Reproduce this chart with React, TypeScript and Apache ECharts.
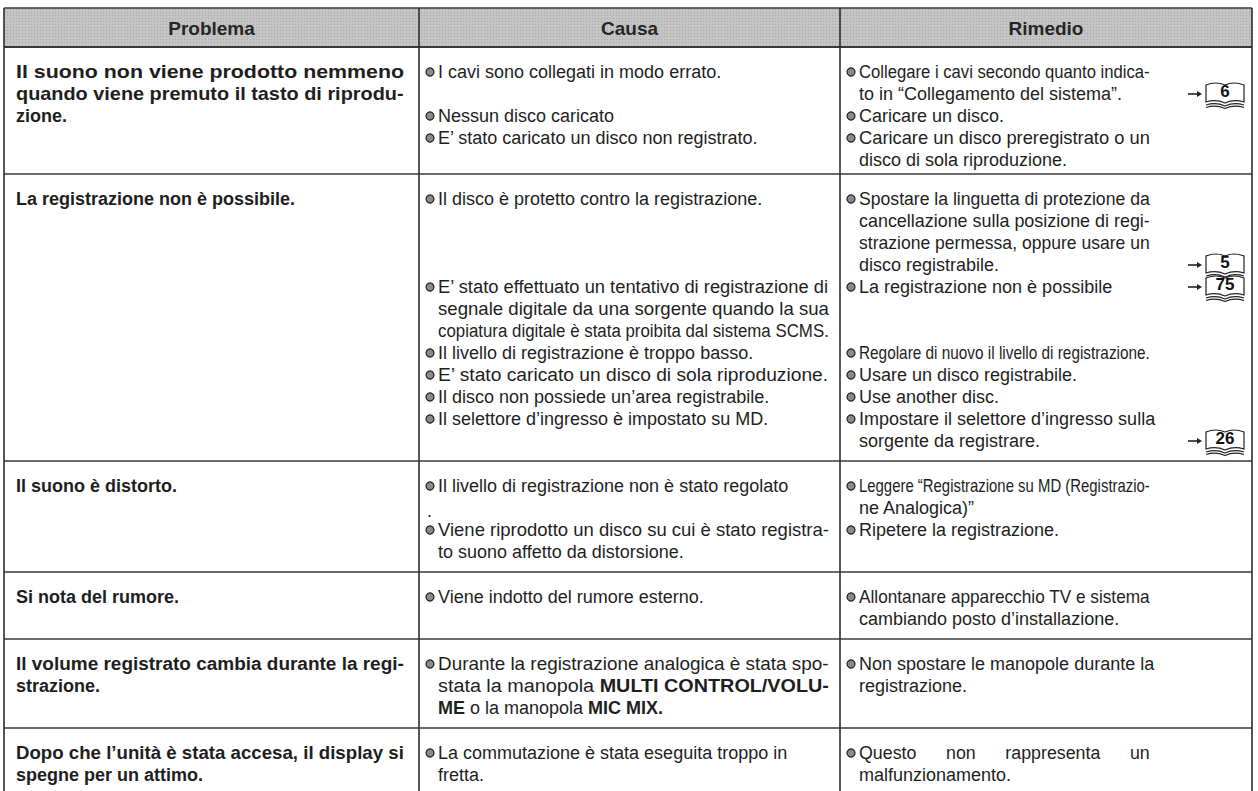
import React, { useEffect, useRef } from "react";
import * as echarts from "echarts";

// ---------- data ----------
const headers = ["Problema", "Causa", "Rimedio"];
const colEdges = [4, 419, 840, 1252];
const rowLineCounts = [5, 12, 4, 2, 3, 2];

type Item = { at: number; lines: string[] };

const problems: string[][] = [
  ["Il suono non viene prodotto nemmeno", "quando viene premuto il tasto di riprodu-", "zione."],
  ["La registrazione non è possibile."],
  ["Il suono è distorto."],
  ["Si nota del rumore."],
  ["Il volume registrato cambia durante la regi-", "strazione."],
  ["Dopo che l’unità è stata accesa, il display si", "spegne per un attimo."],
];

const causes: Item[][] = [
  [
    { at: 0, lines: ["I cavi sono collegati in modo errato."] },
    { at: 2, lines: ["Nessun disco caricato"] },
    { at: 3, lines: ["E’ stato caricato un disco non registrato."] },
  ],
  [
    { at: 0, lines: ["Il disco è protetto contro la registrazione."] },
    { at: 4, lines: ["E’ stato effettuato un tentativo di registrazione di", "segnale digitale da una sorgente quando la sua", "copiatura digitale è stata proibita dal sistema SCMS."] },
    { at: 7, lines: ["Il livello di registrazione è troppo basso."] },
    { at: 8, lines: ["E’ stato caricato un disco di sola riproduzione."] },
    { at: 9, lines: ["Il disco non possiede un’area registrabile."] },
    { at: 10, lines: ["Il selettore d’ingresso è impostato su MD."] },
  ],
  [
    { at: 0, lines: ["Il livello di registrazione non è stato regolato", "."] },
    { at: 2, lines: ["Viene riprodotto un disco su cui è stato registra-", "to suono affetto da distorsione."] },
  ],
  [{ at: 0, lines: ["Viene indotto del rumore esterno."] }],
  [{ at: 0, lines: ["Durante la registrazione analogica è stata spo-", "stata la manopola {b|MULTI CONTROL/VOLU-}", "{b|ME} o la manopola {b|MIC MIX.}"] }],
  [{ at: 0, lines: ["La commutazione è stata eseguita troppo in", "fretta."] }],
];

const remedies: Item[][] = [
  [
    { at: 0, lines: ["Collegare i cavi secondo quanto indica-", "to in “Collegamento del sistema”."] },
    { at: 2, lines: ["Caricare un disco."] },
    { at: 3, lines: ["Caricare un disco preregistrato o un", "disco di sola riproduzione."] },
  ],
  [
    { at: 0, lines: ["Spostare la linguetta di protezione da", "cancellazione sulla posizione di regi-", "strazione permessa, oppure usare un", "disco registrabile."] },
    { at: 4, lines: ["La registrazione non è possibile"] },
    { at: 7, lines: ["Regolare di nuovo il livello di registrazione."] },
    { at: 8, lines: ["Usare un disco registrabile."] },
    { at: 9, lines: ["Use another disc."] },
    { at: 10, lines: ["Impostare il selettore d’ingresso sulla", "sorgente da registrare."] },
  ],
  [
    { at: 0, lines: ["Leggere “Registrazione su MD (Registrazio-", "ne Analogica)”"] },
    { at: 2, lines: ["Ripetere la registrazione."] },
  ],
  [{ at: 0, lines: ["Allontanare apparecchio TV e sistema", "cambiando posto d’installazione."] }],
  [{ at: 0, lines: ["Non spostare le manopole durante la", "registrazione."] }],
  [{ at: 0, lines: ["Questo non rappresenta un", "malfunzionamento."] }],
];

// lines set flush to the right margin of their column (justified in the reference)
const justifiedLines = [
  "Il suono non viene prodotto nemmeno",
  "quando viene premuto il tasto di riprodu-",
  "Il volume registrato cambia durante la regi-",
  "Dopo che l’unità è stata accesa, il display si",
  "E’ stato effettuato un tentativo di registrazione di",
  "segnale digitale da una sorgente quando la sua",
  "copiatura digitale è stata proibita dal sistema SCMS.",
  "E’ stato caricato un disco di sola riproduzione.",
  "Viene riprodotto un disco su cui è stato registra-",
  "Durante la registrazione analogica è stata spo-",
  "stata la manopola {b|MULTI CONTROL/VOLU-}",
  "Collegare i cavi secondo quanto indica-",
  "Caricare un disco preregistrato o un",
  "Spostare la linguetta di protezione da",
  "cancellazione sulla posizione di regi-",
  "strazione permessa, oppure usare un",
  "Regolare di nuovo il livello di registrazione.",
  "Leggere “Registrazione su MD (Registrazio-",
  "Allontanare apparecchio TV e sistema",
];
const wordSpreadLines = ["Questo non rappresenta un"];

const pageRefs: { row: number; line: number; page: string }[] = [
  { row: 0, line: 1, page: "6" },
  { row: 1, line: 3, page: "5" },
  { row: 1, line: 4, page: "75" },
  { row: 1, line: 11, page: "26" },
];

// ---------- layout ----------
const HEADER_TOP = 8;
const HEADER_BOTTOM = 47;
const LINE_H = 22;
const PAD_TOP = 25;
const PAD_BOTTOM = 20;
const FAMILY = '"Liberation Sans", Arial, Helvetica, sans-serif';
const FS = 18;
const INK = "#1e1e1e";
const RIGHT_MARGIN = [404, 829, 1150];
const FIRST_ROW_BOTTOM = 174;

let measureCtx: CanvasRenderingContext2D | null = null;
function measure(text: string, font: string): number {
  if (!measureCtx) measureCtx = document.createElement("canvas").getContext("2d");
  if (!measureCtx) return text.length * 8;
  measureCtx.font = font;
  return measureCtx.measureText(text).width;
}
function measureRich(text: string, font: string, boldFont: string): number {
  let w = 0;
  const re = /\{b\|([^}]*)\}/g;
  let last = 0;
  let m: RegExpExecArray | null;
  while ((m = re.exec(text))) {
    w += measure(text.slice(last, m.index), font);
    w += measure(m[1], boldFont);
    last = m.index + m[0].length;
  }
  w += measure(text.slice(last), font);
  return w;
}

function rowTops(): number[] {
  const tops = [HEADER_BOTTOM, FIRST_ROW_BOTTOM];
  for (let i = 1; i < rowLineCounts.length; i++) {
    const n = rowLineCounts[i];
    tops.push(tops[i] + PAD_TOP + (n - 1) * LINE_H + PAD_BOTTOM);
  }
  return tops;
}

const BOOK_D =
  "M0 4 Q10 0 19 4 Q28 0 38 4 L38 21 Q28 18 19 22 Q10 18 0 21 Z M0 24 Q10 21 19 25 Q28 21 38 24 M0 26.5 Q10 23.5 19 27.5 Q28 23.5 38 26.5";

function textLine(x: number, y: number, text: string, bold: boolean, col: number): any {
  const font = `${bold ? "bold " : ""}${FS}px ${FAMILY}`;
  const boldFont = `bold ${FS}px ${FAMILY}`;
  let shown = text;
  let sx = 1;
  const target = RIGHT_MARGIN[col] - x;
  if (justifiedLines.includes(text)) {
    const w = measureRich(text, font, boldFont);
    sx = target / w;
  } else if (wordSpreadLines.includes(text)) {
    const words = text.split(" ");
    const w = measure(words.join(""), font);
    const sp = measure("\u00a0", font);
    const gaps = words.length - 1;
    const n = Math.max(1, Math.round((target - w) / gaps / sp));
    shown = words.join("\u00a0".repeat(n));
    sx = target / measure(shown, font);
  }
  return {
    type: "text",
    x,
    y,
    scaleX: sx,
    style: {
      x: 0,
      y: 0,
      text: shown,
      fill: INK,
      font,
      verticalAlign: "middle",
      rich: { b: { font: boldFont, fill: INK } },
    },
  };
}

function buildGraphics(): any[] {
  const g: any[] = [];
  const tops = rowTops();
  const W = colEdges[3];

  // header halftone background
  g.push({ type: "rect", shape: { x: colEdges[0], y: HEADER_TOP, width: W - colEdges[0], height: HEADER_BOTTOM - HEADER_TOP }, style: { fill: "#c4c4c4" } });
  for (let y = HEADER_TOP + 1.5; y < HEADER_BOTTOM; y += 3) {
    g.push({ type: "line", shape: { x1: colEdges[0], y1: y, x2: W, y2: y }, style: { stroke: "#a9a9a9", lineWidth: 1, lineDash: [1, 2] } });
  }
  headers.forEach((h, i) => {
    g.push({
      type: "text",
      style: {
        x: (colEdges[i] + colEdges[i + 1]) / 2,
        y: (HEADER_TOP + HEADER_BOTTOM) / 2 + 1,
        text: h,
        fill: "#262626",
        font: `bold 19px ${FAMILY}`,
        align: "center",
        verticalAlign: "middle",
      },
    });
  });

  // horizontal rules
  const hy = [HEADER_TOP, ...tops];
  hy.forEach((y, i) => {
    g.push({ type: "line", shape: { x1: colEdges[0], y1: y, x2: W, y2: y }, style: { stroke: "#3a3a3a", lineWidth: i === 1 ? 2 : 1.6 } });
  });
  // vertical rules
  colEdges.forEach((x) => {
    g.push({ type: "line", shape: { x1: x, y1: HEADER_TOP, x2: x, y2: 800 }, style: { stroke: "#2e2e2e", lineWidth: 1.6 } });
  });

  const lineY = (row: number, idx: number) => tops[row] + PAD_TOP + idx * LINE_H;

  // problems (bold)
  problems.forEach((lines, r) => {
    lines.forEach((t, k) => {
      g.push(textLine(colEdges[0] + 12, lineY(r, k), t, true, 0));
    });
  });

  const drawItems = (items: Item[][], col: number) => {
    items.forEach((list, r) => {
      list.forEach((it) => {
        const bx = colEdges[col] + 11;
        const by = lineY(r, it.at);
        g.push({ type: "circle", shape: { cx: bx, cy: by, r: 4 }, style: { fill: "#8a8a8a", stroke: "#1e1e1e", lineWidth: 1.2 } });
        it.lines.forEach((t, k) => {
          const isDot = t === ".";
          g.push(textLine(isDot ? bx - 3 : bx + 8, lineY(r, it.at + k) + (isDot ? 3 : 0), t, false, col));
        });
      });
    });
  };
  drawItems(causes, 1);
  drawItems(remedies, 2);

  // page refs
  pageRefs.forEach((p) => {
    const y = lineY(p.row, p.line);
    const bx = colEdges[3] - 46;
    g.push({ type: "line", shape: { x1: bx - 18, y1: y, x2: bx - 6, y2: y }, style: { stroke: "#222", lineWidth: 1.6 } });
    g.push({ type: "polygon", shape: { points: [[bx - 4, y], [bx - 9, y - 3], [bx - 9, y + 3]] }, style: { fill: "#222" } });
    g.push({ type: "book", x: bx, y: y - 13, style: { fill: "#fff", stroke: "#222", lineWidth: 1.2 } });
    g.push({ type: "text", style: { x: bx + 19, y: y - 3, text: p.page, fill: "#111", font: `bold 17px ${FAMILY}`, align: "center", verticalAlign: "middle" } });
  });

  return g;
}

export default function App() {
  const ref = useRef<HTMLDivElement>(null);
  useEffect(() => {
    try {
      echarts.graphic.registerShape("book", echarts.graphic.extendPath(BOOK_D, {}) as any);
    } catch (e) {}
    const chart = echarts.init(ref.current!, undefined, { renderer: "svg" });
    chart.setOption({
      animation: false,
      backgroundColor: "#ffffff",
      graphic: { elements: buildGraphics() },
    });
    return () => chart.dispose();
  }, []);
  return <div ref={ref} style={{ width: 1258, height: 791, position: "absolute", left: 0, top: 0 }} />;
}
